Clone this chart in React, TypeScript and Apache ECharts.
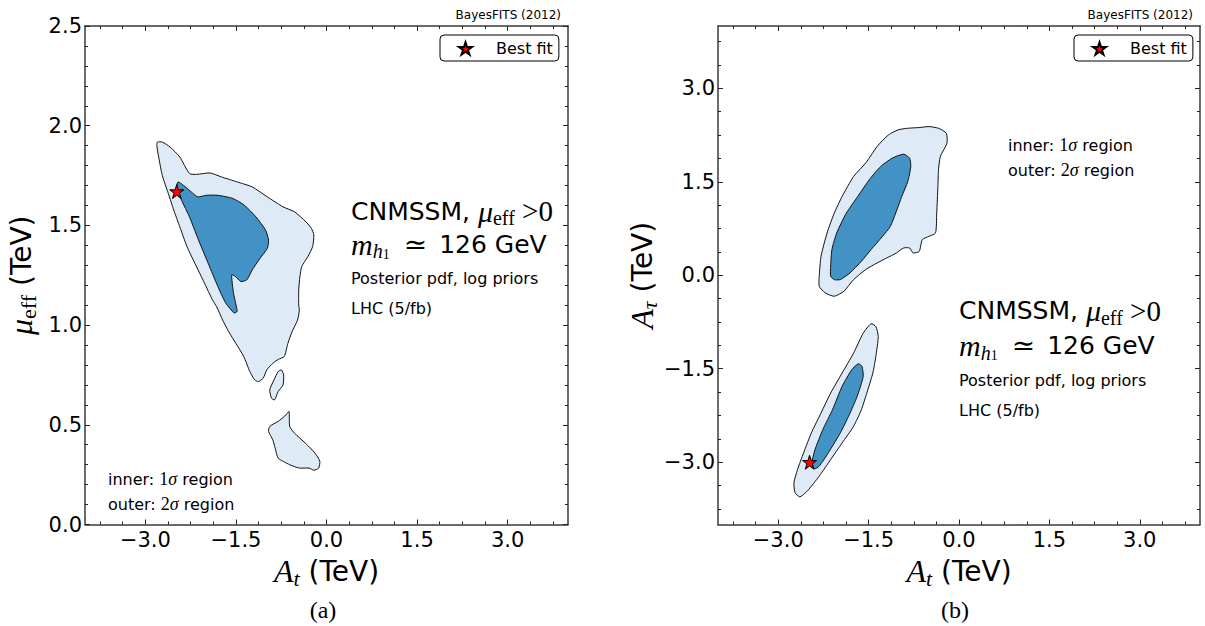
import React, { useEffect, useRef } from 'react';
import * as echarts from 'echarts';

// ---------- axis ticks ----------
const xMajorTicks = [-3.0, -1.5, 0.0, 1.5, 3.0];
const yMajorTicksA = [0.0, 0.5, 1.0, 1.5, 2.0, 2.5];
const yMajorTicksB = [-3.0, -1.5, 0.0, 1.5, 3.0];
const xRange = [-4, 4];
const yRangeA = [0, 2.5];
const yRangeB = [-4, 4];
const minorStepX = 0.375;
const minorStepYA = 0.1;
const minorStepYB = 0.375;

// ---------- panel (a): A_t vs mu_eff ----------
const aOuter = [
  [-2.80, 1.918], [-2.72, 1.918], [-2.59, 1.893], [-2.43, 1.843], [-2.27, 1.760], [-2.15, 1.756],
  [-1.93, 1.763], [-1.74, 1.743], [-1.48, 1.718], [-1.23, 1.693], [-0.98, 1.643], [-0.72, 1.593],
  [-0.53, 1.568], [-0.34, 1.518], [-0.25, 1.485], [-0.21, 1.452], [-0.23, 1.393], [-0.31, 1.343],
  [-0.41, 1.294], [-0.44, 1.244], [-0.46, 1.177], [-0.46, 1.10], [-0.45, 1.075], [-0.48, 1.025],
  [-0.57, 0.967], [-0.64, 0.908], [-0.70, 0.842], [-0.80, 0.828], [-0.89, 0.808], [-0.99, 0.775],
  [-1.05, 0.733], [-1.13, 0.717], [-1.19, 0.725], [-1.27, 0.767], [-1.37, 0.842], [-1.50, 0.908],
  [-1.62, 0.967], [-1.72, 1.025], [-1.82, 1.092], [-1.89, 1.127], [-2.02, 1.21], [-2.18, 1.31],
  [-2.31, 1.393], [-2.43, 1.493], [-2.53, 1.577], [-2.62, 1.66], [-2.72, 1.751], [-2.78, 1.843],
  [-2.81, 1.901],
];
const aInner = [
  [-2.46, 1.718], [-2.37, 1.701], [-2.24, 1.668], [-2.13, 1.643], [-1.99, 1.651], [-1.80, 1.651],
  [-1.55, 1.635], [-1.36, 1.601], [-1.17, 1.543], [-1.01, 1.477], [-0.96, 1.427], [-0.98, 1.385],
  [-1.10, 1.335], [-1.23, 1.277], [-1.32, 1.227], [-1.42, 1.219], [-1.51, 1.244], [-1.57, 1.252],
  [-1.54, 1.16], [-1.48, 1.069], [-1.53, 1.061], [-1.67, 1.111], [-1.80, 1.194], [-1.96, 1.31],
  [-2.12, 1.427], [-2.27, 1.543], [-2.40, 1.626], [-2.48, 1.693],
];
const aIsland1 = [
  [-0.745, 0.775], [-0.71, 0.75], [-0.72, 0.70], [-0.80, 0.667], [-0.86, 0.625], [-0.91, 0.633],
  [-0.94, 0.675], [-0.87, 0.725], [-0.80, 0.767],
];
const aIsland2 = [
  [-0.62, 0.567], [-0.61, 0.492], [-0.53, 0.458], [-0.35, 0.408], [-0.19, 0.358], [-0.11, 0.317],
  [-0.13, 0.283], [-0.21, 0.272], [-0.29, 0.283], [-0.45, 0.283], [-0.61, 0.30], [-0.80, 0.333],
  [-0.85, 0.383], [-0.89, 0.425], [-0.96, 0.467], [-0.94, 0.492], [-0.80, 0.517], [-0.67, 0.55],
];
const aBestFit = [[-2.48, 1.67]];

// ---------- panel (b): A_t vs A_tau ----------
const bUpperOuter = [
  [-2.32, -0.017], [-2.29, 0.304], [-2.19, 0.678], [-2.07, 0.998], [-1.94, 1.265], [-1.75, 1.585],
  [-1.55, 1.799], [-1.36, 2.066], [-1.17, 2.253], [-1.01, 2.333], [-0.85, 2.359], [-0.66, 2.370],
  [-0.50, 2.386], [-0.34, 2.359], [-0.21, 2.279], [-0.20, 2.119], [-0.31, 1.905], [-0.34, 1.692],
  [-0.35, 1.425], [-0.37, 0.998], [-0.39, 0.678], [-0.50, 0.624], [-0.61, 0.571], [-0.66, 0.384],
  [-0.76, 0.357], [-0.82, 0.437], [-0.92, 0.437], [-1.04, 0.357], [-1.20, 0.277], [-1.36, 0.197],
  [-1.55, 0.090], [-1.75, -0.07], [-1.91, -0.257], [-2.07, -0.337], [-2.22, -0.283], [-2.32, -0.177],
];
const bUpperInner = [
  [-2.13, 0.144], [-2.11, 0.411], [-2.03, 0.678], [-1.87, 0.998], [-1.68, 1.265], [-1.49, 1.532],
  [-1.30, 1.745], [-1.11, 1.879], [-0.92, 1.943], [-0.82, 1.879], [-0.80, 1.745], [-0.85, 1.505],
  [-0.95, 1.265], [-1.04, 1.025], [-1.14, 0.784], [-1.27, 0.624], [-1.46, 0.411], [-1.62, 0.224],
  [-1.81, 0.037], [-1.97, -0.07], [-2.07, -0.07], [-2.13, -0.017],
];
const bLowerOuter = [
  [-1.46, -0.779], [-1.38, -0.822], [-1.34, -0.982], [-1.38, -1.302], [-1.43, -1.569], [-1.53, -1.890],
  [-1.62, -2.157], [-1.75, -2.424], [-1.94, -2.691], [-2.13, -2.958], [-2.32, -3.224], [-2.52, -3.465],
  [-2.64, -3.556], [-2.72, -3.491], [-2.74, -3.331], [-2.68, -3.118], [-2.58, -2.851], [-2.45, -2.530],
  [-2.29, -2.210], [-2.13, -1.890], [-1.94, -1.569], [-1.75, -1.249], [-1.59, -0.929],
];
const bLowerInner = [
  [-1.67, -1.42], [-1.61, -1.463], [-1.59, -1.623], [-1.69, -1.943], [-1.82, -2.237], [-1.97, -2.530],
  [-2.17, -2.851], [-2.32, -3.064], [-2.40, -3.107], [-2.44, -3.011], [-2.39, -2.797], [-2.26, -2.477],
  [-2.10, -2.157], [-1.94, -1.783], [-1.78, -1.516],
];
const bBestFit = [[-2.48, -3.0]];

// ---------- styling ----------
const SANS = "'DejaVu Sans', sans-serif";
const SERIF = "'Liberation Serif', 'DejaVu Serif', serif";
const LIGHT = '#deebf7';
const DARK = '#4292c6';
const AXIS_COLOR = '#3a3a3a';
const STAR = 'path://M50 0 L61.23 34.55 L97.55 34.55 L68.17 55.9 L79.39 90.45 L50 69.1 L20.61 90.45 L31.83 55.9 L2.45 34.55 L38.77 34.55 Z';

function minorValues(min: number, max: number, step: number, majors: number[]) {
  const out: number[] = [];
  const start = Math.ceil(min / step - 1e-9);
  const end = Math.floor(max / step + 1e-9);
  for (let k = start; k <= end; k++) {
    const v = Math.round(k * step * 10000) / 10000;
    if (v <= min || v >= max) continue;
    if (majors.some((m) => Math.abs(m - v) < 1e-6)) continue;
    out.push(v);
  }
  return out;
}

const fmt = (v: number) => v.toFixed(1).replace('-', '\u2212');

const tickLine = { color: '#222', width: 1 };
const hiddenLine = { show: false, onZero: false };

function xAxesFor(grid: number, majors: number[], range: number[], step: number, name: string, rich: any) {
  const minors = minorValues(range[0], range[1], step, majors);
  const base = { gridIndex: grid, type: 'value', min: range[0], max: range[1], splitLine: { show: false } };
  return [
    {
      ...base, position: 'bottom',
      axisLine: { show: true, onZero: false, lineStyle: { color: AXIS_COLOR, width: 1.5 } },
      axisTick: { show: true, inside: true, length: 5, customValues: majors, lineStyle: tickLine },
      axisLabel: { show: true, customValues: majors, formatter: fmt, fontSize: 21, fontFamily: SANS, color: '#000', margin: 5 },
      name, nameLocation: 'middle', nameGap: 14,
      nameTextStyle: { rich },
    },
    {
      ...base, position: 'bottom', axisLine: hiddenLine,
      axisTick: { show: true, inside: true, length: 3, customValues: minors, lineStyle: tickLine },
      axisLabel: { show: false },
    },
    {
      ...base, position: 'top',
      axisLine: { show: true, onZero: false, lineStyle: { color: AXIS_COLOR, width: 1.5 } },
      axisTick: { show: true, inside: true, length: 5, customValues: majors, lineStyle: tickLine },
      axisLabel: { show: false },
    },
    {
      ...base, position: 'top', axisLine: hiddenLine,
      axisTick: { show: true, inside: true, length: 3, customValues: minors, lineStyle: tickLine },
      axisLabel: { show: false },
    },
  ];
}

function yAxesFor(grid: number, majors: number[], range: number[], step: number, name: string, rich: any, gap: number) {
  const minors = minorValues(range[0], range[1], step, majors);
  const base = { gridIndex: grid, type: 'value', min: range[0], max: range[1], splitLine: { show: false } };
  return [
    {
      ...base, position: 'left',
      axisLine: { show: true, onZero: false, lineStyle: { color: AXIS_COLOR, width: 1.5 } },
      axisTick: { show: true, inside: true, length: 5, customValues: majors, lineStyle: tickLine },
      axisLabel: { show: true, customValues: majors, formatter: fmt, fontSize: 21, fontFamily: SANS, color: '#000', margin: 3 },
      name, nameLocation: 'middle', nameGap: gap,
      nameTextStyle: { rich },
    },
    {
      ...base, position: 'left', axisLine: hiddenLine,
      axisTick: { show: true, inside: true, length: 3, customValues: minors, lineStyle: tickLine },
      axisLabel: { show: false },
    },
    {
      ...base, position: 'right',
      axisLine: { show: true, onZero: false, lineStyle: { color: AXIS_COLOR, width: 1.5 } },
      axisTick: { show: true, inside: true, length: 5, customValues: majors, lineStyle: tickLine },
      axisLabel: { show: false },
    },
    {
      ...base, position: 'right', axisLine: hiddenLine,
      axisTick: { show: true, inside: true, length: 3, customValues: minors, lineStyle: tickLine },
      axisLabel: { show: false },
    },
  ];
}

function polySeries(name: string, pts: number[][], axisIdx: number, fill: string, z: number) {
  return {
    type: 'custom',
    name,
    xAxisIndex: axisIdx,
    yAxisIndex: axisIdx,
    silent: true,
    z,
    data: pts,
    encode: { x: 0, y: 1 },
    renderItem: (params: any, api: any) => {
      if (params.dataIndex !== 0) return null;
      const points = pts.map((p) => api.coord(p));
      return {
        type: 'polygon',
        shape: { points, smooth: 0.2 },
        style: { fill, stroke: '#111', lineWidth: 1 },
      };
    },
  };
}

function bestFitSeries(pts: number[][], axisIdx: number) {
  return {
    type: 'scatter',
    name: 'Best fit',
    xAxisIndex: axisIdx,
    yAxisIndex: axisIdx,
    data: pts,
    symbol: STAR,
    symbolSize: 14,
    itemStyle: { color: '#ff0000', borderColor: '#000', borderWidth: 1, opacity: 1 },
    z: 10,
    silent: true,
  };
}

const axisNameRich = {
  i: { fontFamily: SERIF, fontStyle: 'italic', fontSize: 32, lineHeight: 36, color: '#000' },
  subi: { fontFamily: SERIF, fontStyle: 'italic', fontSize: 22, lineHeight: 24, verticalAlign: 'bottom', color: '#000' },
  sub: { fontFamily: SERIF, fontSize: 22, lineHeight: 24, verticalAlign: 'bottom', color: '#000' },
  s: { fontFamily: SANS, fontSize: 28, lineHeight: 36, color: '#000' },
};

const annoRich = {
  a: { fontFamily: SANS, fontSize: 25, lineHeight: 34, color: '#000' },
  mi: { fontFamily: SERIF, fontStyle: 'italic', fontSize: 30, lineHeight: 34, color: '#000' },
  mr: { fontFamily: SERIF, fontSize: 29, lineHeight: 34, color: '#000' },
  rel: { fontFamily: SERIF, fontSize: 28, lineHeight: 34, color: '#000', padding: [0, 12, 0, 14] },
  sb: { fontFamily: SERIF, fontSize: 20, lineHeight: 22, verticalAlign: 'bottom', color: '#000' },
  sbi: { fontFamily: SERIF, fontStyle: 'italic', fontSize: 20, lineHeight: 22, verticalAlign: 'bottom', color: '#000' },
  ssb: { fontFamily: SERIF, fontSize: 14, lineHeight: 14, verticalAlign: 'bottom', color: '#000' },
  t: { fontFamily: SANS, fontSize: 16, lineHeight: 22, color: '#000' },
  r: { fontFamily: SERIF, fontSize: 18, lineHeight: 22, color: '#000' },
  it: { fontFamily: SERIF, fontStyle: 'italic', fontSize: 18, lineHeight: 22, color: '#000' },
};

function textEl(x: number, y: number, text: string, extra: any = {}) {
  return {
    type: 'text',
    x,
    y,
    silent: true,
    style: {
      text,
      rich: annoRich,
      fill: '#000',
      fontFamily: SANS,
      fontSize: 16,
      align: 'left',
      verticalAlign: 'middle',
      ...extra,
    },
  };
}

function panelTexts(cx: number, y0: number, yStep: number[], ix: number, iy: number, bx: number, bayesY: number, label: string, labelX: number) {
  return [
    textEl(bx, bayesY, 'BayesFITS (2012)', { align: 'right', fontSize: 12 }),
    textEl(cx, y0, '{a|CNMSSM, }{mi|\u03bc}{sb|eff}{mr| >0}'),
    textEl(cx, y0 + yStep[0], '{mi|m}{sbi|h}{ssb|1}{rel|\u2243}{a|126 GeV}'),
    textEl(cx, y0 + yStep[1], 'Posterior pdf, log priors'),
    textEl(cx, y0 + yStep[2], 'LHC (5/fb)'),
    textEl(ix, iy, '{t|inner: }{r|1}{it|\u03c3}{t| region}'),
    textEl(ix, iy + 25, '{t|outer: }{r|2}{it|\u03c3}{t| region}'),
    {
      type: 'text', x: labelX, y: 610, silent: true,
      style: { text: label, fill: '#000', fontFamily: SERIF, fontSize: 24, align: 'center', verticalAlign: 'middle' },
    },
  ];
}

function legendFor(left: number) {
  return {
    data: ['Best fit'],
    left,
    top: 35,
    orient: 'horizontal',
    icon: STAR,
    itemWidth: 13,
    itemHeight: 13,
    padding: [4, 6, 3, 18],
    borderColor: '#000',
    borderWidth: 1,
    borderRadius: 4,
    backgroundColor: '#fff',
    selectedMode: false,
    textStyle: { fontSize: 16, fontFamily: SANS, color: '#000', lineHeight: 19, padding: [0, 0, 0, 19] },
  };
}

export default function App() {
  const ref = useRef<HTMLDivElement>(null);
  useEffect(() => {
    if (!ref.current) return;
    const chart = echarts.init(ref.current, undefined, { renderer: 'svg' });
    const option: any = {
      animation: false,
      backgroundColor: '#fff',
      grid: [
        { left: 85, top: 26, width: 483, height: 498.5, outerBoundsMode: 'none' },
        { left: 718, top: 26, width: 482, height: 498.5, outerBoundsMode: 'none' },
      ],
      xAxis: [
        ...xAxesFor(0, xMajorTicks, xRange, minorStepX, '{i|A}{subi|t}{s| (TeV)}', axisNameRich),
        ...xAxesFor(1, xMajorTicks, xRange, minorStepX, '{i|A}{subi|t}{s| (TeV)}', axisNameRich),
      ],
      yAxis: [
        ...yAxesFor(0, yMajorTicksA, yRangeA, minorStepYA, '{i|\u03bc}{sub|eff}{s| (TeV)}', axisNameRich, 46),
        ...yAxesFor(1, yMajorTicksB, yRangeB, minorStepYB, '{i|A}{subi|\u03c4}{s| (TeV)}', axisNameRich, 46),
      ],
      legend: [legendFor(440), legendFor(1074)],
      series: [
        polySeries('a 2sigma', aOuter, 0, LIGHT, 2),
        polySeries('a 2sigma island 1', aIsland1, 0, LIGHT, 2),
        polySeries('a 2sigma island 2', aIsland2, 0, LIGHT, 2),
        polySeries('a 1sigma', aInner, 0, DARK, 3),
        bestFitSeries(aBestFit, 0),
        polySeries('b 2sigma upper', bUpperOuter, 4, LIGHT, 2),
        polySeries('b 2sigma lower', bLowerOuter, 4, LIGHT, 2),
        polySeries('b 1sigma upper', bUpperInner, 4, DARK, 3),
        polySeries('b 1sigma lower', bLowerInner, 4, DARK, 3),
        bestFitSeries(bBestFit, 4),
      ],
      graphic: [
        ...panelTexts(351, 211, [33, 67.5, 97], 108, 479, 561, 14.5, '(a)', 323),
        ...panelTexts(959, 310.5, [35, 69.5, 99.5], 1008, 145, 1193, 14.5, '(b)', 955),
      ],
    };
    chart.setOption(option);
    return () => chart.dispose();
  }, []);
  return (
    <div
      ref={ref}
      style={{ position: 'absolute', left: 0, top: 0, width: 1205, height: 626, background: '#fff' }}
    />
  );
}
